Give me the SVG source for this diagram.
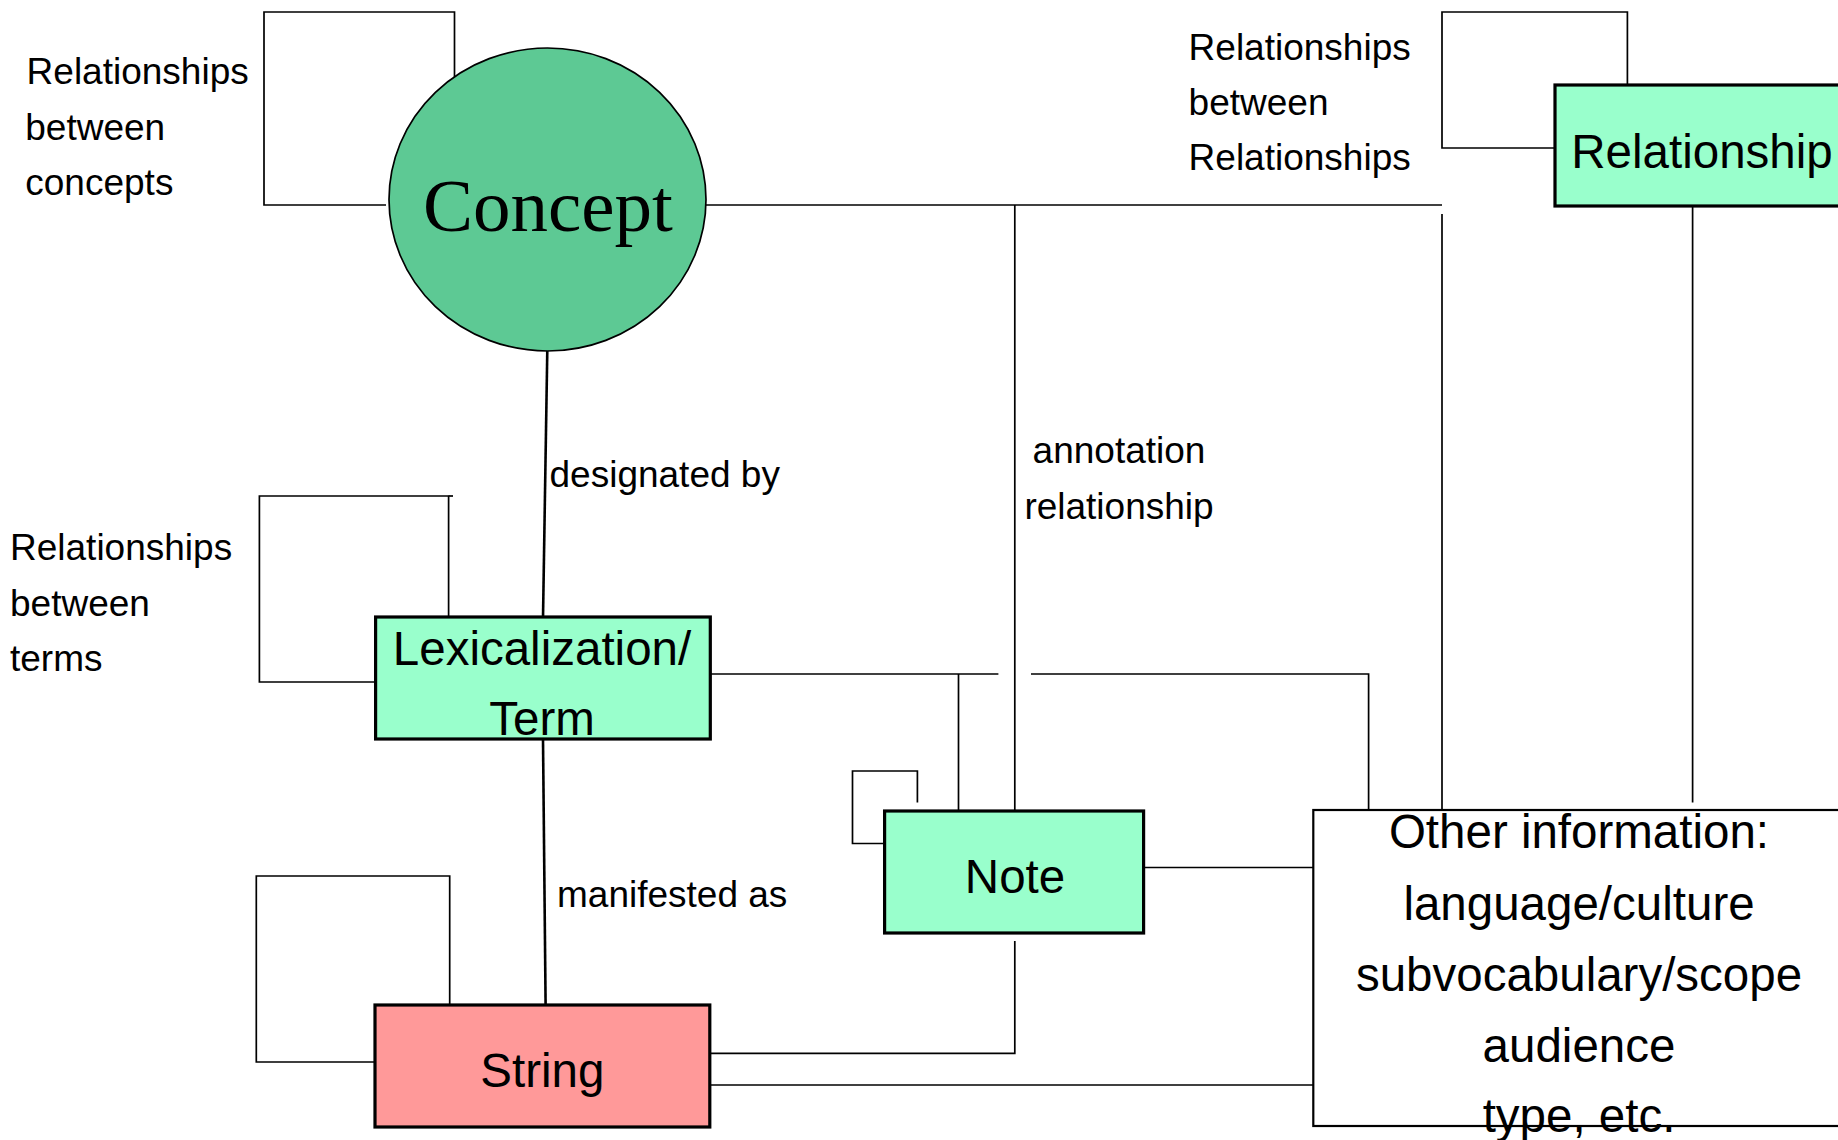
<svg xmlns="http://www.w3.org/2000/svg" width="1838" height="1140" viewBox="0 0 1838 1140">
  <style>
    .wire { fill: none; stroke: #000; stroke-width: 1.7; }
    .wire-bold { fill: none; stroke: #000; stroke-width: 2.6; }
    .box { stroke: #000; stroke-width: 3.2; }
    .mint { fill: #99FFCC; }
    .pink { fill: #FF9999; }
    .lbl { font-family: "Liberation Sans", Arial, Helvetica, sans-serif; font-size: 37px; fill: #000; }
    .name { font-family: "Liberation Sans", Arial, Helvetica, sans-serif; font-size: 47.5px; fill: #000; text-anchor: middle; }
  </style>

  <rect width="1838" height="1140" fill="#fff"/>

  <!-- connectors -->
  <g id="connectors">
    <!-- concept self loop -->
    <polyline class="wire" points="454.5,78 454.5,12 264,12 264,205 386,205"/>
    <!-- concept to relationship -->
    <line class="wire" x1="706" y1="205" x2="1442" y2="205"/>
    <!-- relationship self loop -->
    <polyline class="wire" points="1627.4,85 1627.4,12 1442,12 1442,148 1555,148"/>
    <!-- concept designated by lexicalization -->
    <line class="wire-bold" x1="547.3" y1="350" x2="543" y2="618"/>
    <!-- lexicalization manifested as string -->
    <line class="wire-bold" x1="543" y1="739" x2="545.6" y2="1005"/>
    <!-- lexicalization self loop -->
    <polyline class="wire" points="448.6,623 448.6,496 259.4,496 259.4,682 380,682"/>
    <line class="wire" x1="448.6" y1="496" x2="453" y2="496"/>
    <!-- string self loop -->
    <polyline class="wire" points="449.7,1005 449.7,876 256.3,876 256.3,1062 375,1062"/>
    <!-- annotation relationship -->
    <line class="wire" x1="1014.8" y1="205" x2="1014.8" y2="811"/>
    <!-- lexicalization to note and other information -->
    <polyline class="wire" points="710,674 998.4,674"/>
    <line class="wire" x1="958.5" y1="674" x2="958.5" y2="811"/>
    <polyline class="wire" points="1031,674 1368.6,674 1368.6,810"/>
    <!-- relationship to other information -->
    <line class="wire" x1="1442" y1="214" x2="1442" y2="810"/>
    <line class="wire" x1="1692.6" y1="206" x2="1692.6" y2="802.5"/>
    <!-- note self loop -->
    <polyline class="wire" points="917.4,802.5 917.4,771 852.5,771 852.5,843.5 884.6,843.5"/>
    <!-- note to other information -->
    <line class="wire" x1="1143.6" y1="867.5" x2="1313.3" y2="867.5"/>
    <!-- string to note -->
    <polyline class="wire" points="709.8,1053.3 1014.8,1053.3 1014.8,941"/>
    <!-- string to other information -->
    <line class="wire" x1="709.8" y1="1085" x2="1313.3" y2="1085"/>
  </g>

  <!-- nodes -->
  <g id="concept">
    <ellipse cx="547.5" cy="199.5" rx="158.5" ry="151.5" fill="#5DC994" stroke="#000" stroke-width="1.7"/>
    <text x="548" y="231" text-anchor="middle" font-family="'Liberation Serif', 'Times New Roman', serif" font-size="75" fill="#000">Concept</text>
  </g>

  <g id="relationship">
    <rect class="box mint" x="1555" y="85" width="300" height="121"/>
    <text class="name" x="1702" y="167.5" text-anchor="middle" font-size="48">Relationship</text>
  </g>

  <g id="lexicalization">
    <rect class="box mint" x="375.6" y="617" width="334.7" height="122"/>
    <text class="name" x="542" y="664.5">Lexicalization/</text>
    <text class="name" x="542" y="734.5">Term</text>
  </g>

  <g id="note">
    <rect class="box mint" x="884.6" y="811" width="259" height="122"/>
    <text class="name" x="1015" y="893">Note</text>
  </g>

  <g id="string">
    <rect class="box pink" x="375" y="1005" width="334.8" height="122"/>
    <text class="name" x="542.4" y="1086.5">String</text>
  </g>

  <g id="other-information">
    <rect x="1313.3" y="810" width="540" height="316" fill="#fff" stroke="#000" stroke-width="2.2"/>
    <text class="name" x="1579" y="847.5">Other information:</text>
    <text class="name" x="1579" y="919.5">language/culture</text>
    <text class="name" x="1579" y="991">subvocabulary/scope</text>
    <text class="name" x="1579" y="1061.5">audience</text>
    <text class="name" x="1579" y="1131.5">type, etc.</text>
  </g>

  <!-- connector labels -->
  <g id="labels">
    <text class="lbl" x="26.6" y="83.5">Relationships</text>
    <text class="lbl" x="25.3" y="139.5">between</text>
    <text class="lbl" x="25.3" y="194.5">concepts</text>

    <text class="lbl" x="1188.6" y="59.5">Relationships</text>
    <text class="lbl" x="1188.6" y="114.5">between</text>
    <text class="lbl" x="1188.6" y="170">Relationships</text>

    <text class="lbl" x="10" y="559.5">Relationships</text>
    <text class="lbl" x="10" y="616">between</text>
    <text class="lbl" x="10" y="671">terms</text>

    <text class="lbl" x="549.5" y="486.5">designated by</text>
    <text class="lbl" x="1119" y="462.5" text-anchor="middle">annotation</text>
    <text class="lbl" x="1119" y="518.5" text-anchor="middle">relationship</text>
    <text class="lbl" x="557" y="907">manifested as</text>
  </g>
</svg>
